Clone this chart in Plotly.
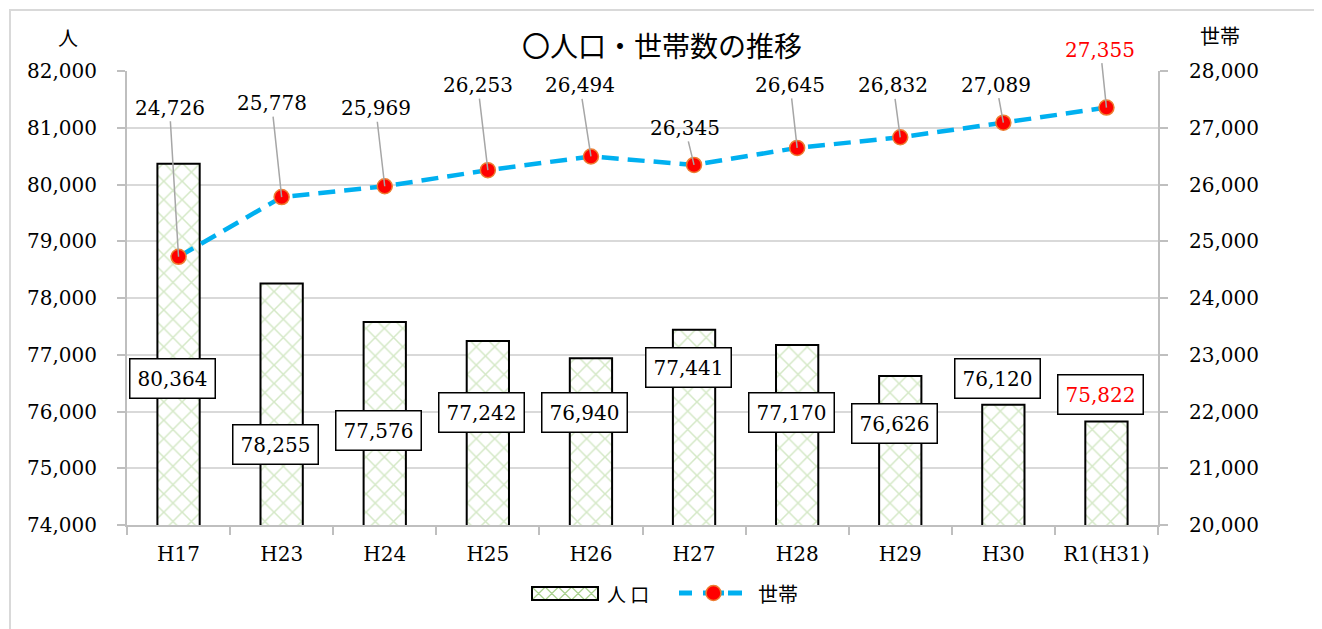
import plotly.graph_objects as go

# data
years = ['H17', 'H23', 'H24', 'H25', 'H26', 'H27', 'H28', 'H29', 'H30', 'R1(H31)']
population = [80364, 78255, 77576, 77242, 76940, 77441, 77170, 76626, 76120, 75822]
households = [24726, 25778, 25969, 26253, 26494, 26345, 26645, 26832, 27089, 27355]

# where the hand placed labels sit (left axis units / pixel offsets)
pop_label_y = [76590, 75427, 75674, 75991, 75974, 76767, 75974, 75780, 76590, 76291]
hh_label_ax = [-9, -10, -9, -10, -11, -9, -7, -7, -7, -6]
hh_label_ay = [-149, -94, -78, -85, -71, -37, -63, -52, -38, -58]

serif = 'DejaVu Serif, Liberation Serif, serif'
cjk = 'Noto Sans CJK JP, sans-serif'
green = '#A9D18E'
blue = '#00B0F0'

# the page body adds 8px around the figure
OFF = 8
W, H = 1322 - OFF, 629 - OFF
# plot area in page pixels
L, R, T, B = 127, 1158, 71, 525


def px(x):
    return (x - L) / (R - L)


def py(y):
    return (B - y) / (B - T)


fig = go.Figure()

fig.add_trace(go.Bar(
    x=years, y=population, name='人口',
    width=0.41, showlegend=False,
    marker=dict(
        color='white',
        line=dict(color='black', width=2),
        pattern=dict(shape='x', fgcolor=green, bgcolor='white', size=13, solidity=0.22),
    ),
))

fig.add_trace(go.Scatter(
    x=years, y=households, name='世帯', yaxis='y2', showlegend=False,
    mode='lines+markers',
    line=dict(color=blue, width=4.5, dash='17px,9px'),
    marker=dict(color='#FF0000', size=15, line=dict(color='#ED7D31', width=1.5)),
))

annotations = []
last = len(years) - 1
for i, (yr, v) in enumerate(zip(years, population)):
    annotations.append(dict(
        x=yr, y=pop_label_y[i], xref='x', yref='y', xshift=-6,
        text=f'{v:,}', showarrow=False,
        font=dict(family=serif, size=20, color='red' if i == last else 'black'),
        bgcolor='white', bordercolor='black', borderwidth=1.5, borderpad=7,
    ))
for i, (yr, v) in enumerate(zip(years, households)):
    annotations.append(dict(
        x=yr, y=v, xref='x', yref='y2',
        text=f'{v:,}', showarrow=True, arrowhead=0, arrowwidth=1.5,
        arrowcolor='#A6A6A6', ax=hh_label_ax[i], ay=hh_label_ay[i],
        standoff=0, startstandoff=0,
        font=dict(family=serif, size=20, color='red' if i == last else 'black'),
    ))

# title, axis captions, legend texts
annotations += [
    dict(text='〇人口・世帯数の推移', x=px(662), y=py(45), xref='paper', yref='paper',
         showarrow=False, font=dict(family=cjk, size=28, color='black'),
         xanchor='center', yanchor='middle'),
    dict(text='人', x=px(68), y=py(37), xref='paper', yref='paper',
         showarrow=False, font=dict(family=cjk, size=20, color='black'),
         xanchor='center', yanchor='middle'),
    dict(text='世帯', x=px(1220), y=py(35), xref='paper', yref='paper',
         showarrow=False, font=dict(family=cjk, size=20, color='black'),
         xanchor='center', yanchor='middle'),
    dict(text='人 口', x=px(605), y=py(593), xref='paper', yref='paper',
         showarrow=False, font=dict(family=cjk, size=19, color='black'),
         xanchor='left', yanchor='middle'),
    dict(text='世帯', x=px(756), y=py(593), xref='paper', yref='paper',
         showarrow=False, font=dict(family=cjk, size=20, color='black'),
         xanchor='left', yanchor='middle'),
]

# outer frame of the chart (as close to the page edge as the figure allows)
shapes = [dict(type='rect', xref='paper', yref='paper',
               x0=px(OFF + 2), x1=px(1316), y0=py(660), y1=py(OFF + 2),
               line=dict(color='#D9D9D9', width=2), layer='below')]

# legend key for the bars: hatched box
kx0, kx1, ky0, ky1 = 532, 598, 587, 600
cell = (kx1 - kx0) / 5
path = ''
for k in range(5):
    a = kx0 + k * cell
    b = a + cell
    path += f'M{px(a)},{py(ky0)} L{px(b)},{py(ky1)} M{px(b)},{py(ky0)} L{px(a)},{py(ky1)} '
shapes += [
    dict(type='rect', xref='paper', yref='paper', x0=px(kx0), x1=px(kx1), y0=py(ky1), y1=py(ky0),
         fillcolor='white', line=dict(color='black', width=2)),
    dict(type='path', xref='paper', yref='paper', path=path, line=dict(color=green, width=1.2)),
    dict(type='rect', xref='paper', yref='paper', x0=px(kx0), x1=px(kx1), y0=py(ky1), y1=py(ky0),
         line=dict(color='black', width=2)),
]
# legend key for the line: dashed stroke with marker
shapes += [
    dict(type='line', xref='paper', yref='paper', x0=px(679), x1=px(692), y0=py(593), y1=py(593),
         line=dict(color=blue, width=5)),
    dict(type='line', xref='paper', yref='paper', x0=px(703), x1=px(724), y0=py(593), y1=py(593),
         line=dict(color=blue, width=5)),
    dict(type='line', xref='paper', yref='paper', x0=px(728), x1=px(742), y0=py(593), y1=py(593),
         line=dict(color=blue, width=5)),
    dict(type='circle', xref='paper', yref='paper', x0=px(706), x1=px(721), y0=py(600.5), y1=py(585.5),
         fillcolor='#FF0000', line=dict(color='#ED7D31', width=1.5)),
]

axis_common = dict(
    showline=True, linecolor='#BFBFBF', linewidth=2,
    ticks='outside', ticklen=8, tickcolor='#BFBFBF', tickwidth=2,
    tickfont=dict(family=serif, size=20, color='black'),
    automargin=False,
)

fig.update_layout(
    width=W, height=H,
    margin=dict(l=L - OFF, r=W - (R - OFF), t=T - OFF, b=H - (B - OFF), autoexpand=False),
    paper_bgcolor='white', plot_bgcolor='white',
    showlegend=False,
    xaxis=dict(tickson='boundaries', range=[-0.5, len(years) - 0.5],
               ticklabelstandoff=10, **axis_common),
    yaxis=dict(range=[74000, 82000], dtick=1000, tickformat=',d', ticklabelstandoff=16,
               showgrid=True, gridcolor='#D9D9D9', gridwidth=1.5, zeroline=False, **axis_common),
    yaxis2=dict(range=[20000, 28000], dtick=1000, tickformat=',d', ticklabelstandoff=17,
                overlaying='y', side='right', showgrid=False, zeroline=False, **axis_common),
    annotations=annotations,
    shapes=shapes,
    hovermode=False,
)

fig.write_html('out.html')
